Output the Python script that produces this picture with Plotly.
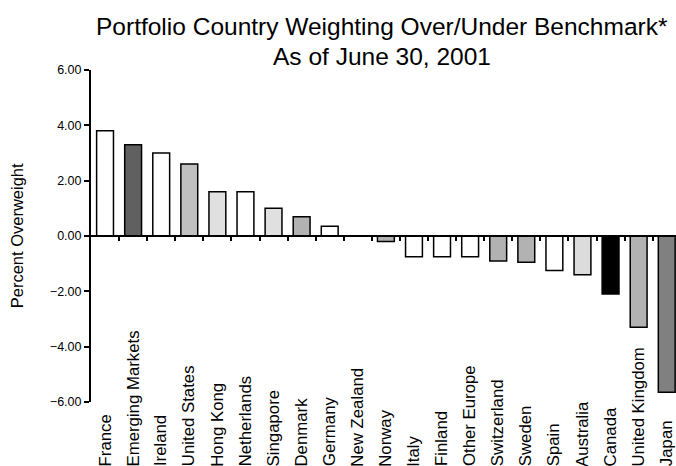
import plotly.graph_objects as go

# Country over/under weights (percentage points vs. benchmark)
countries = [
    "France", "Emerging Markets", "Ireland", "United States", "Hong Kong",
    "Netherlands", "Singapore", "Denmark", "Germany", "New Zealand", "Norway",
    "Italy", "Finland", "Other Europe", "Switzerland", "Sweden", "Spain",
    "Australia", "Canada", "United Kingdom", "Japan",
]
weights = [
    3.8, 3.3, 3.0, 2.6, 1.6,
    1.6, 1.0, 0.7, 0.35, 0.0, -0.2,
    -0.75, -0.75, -0.75, -0.9, -0.95, -1.25,
    -1.4, -2.1, -3.3, -5.65,
]
bar_colors = [
    "#ffffff", "#606060", "#ffffff", "#c0c0c0", "#e0e0e0",
    "#ffffff", "#e0e0e0", "#b2b2b2", "#ffffff", "#ffffff", "#b2b2b2",
    "#ffffff", "#ffffff", "#ffffff", "#b2b2b2", "#b2b2b2", "#ffffff",
    "#dcdcdc", "#000000", "#b2b2b2", "#808080",
]
y_ticks = [-6, -4, -2, 0, 2, 4, 6]
title_lines = ["Portfolio Country Weighting Over/Under Benchmark*", "As of June 30, 2001"]

FONT = "Liberation Sans, Arial, sans-serif"

fig = go.Figure(
    go.Bar(
        x=list(range(len(countries))),
        y=weights,
        marker=dict(color=bar_colors, line=dict(color="#000000", width=1.5)),
        width=0.6,
        hoverinfo="skip",
    )
)

# Category labels, rotated and aligned along the bottom edge
for i, name in enumerate(countries):
    fig.add_annotation(
        x=i, xref="x", y=-0.2, yref="paper",
        text=name, textangle=-90, showarrow=False,
        xanchor="center", yanchor="bottom",
        font=dict(family=FONT, size=16.8, color="#000000"),
    )

fig.add_annotation(
    x=-0.126, xref="paper", y=0.5, yref="paper",
    text="Percent Overweight", textangle=-90, showarrow=False,
    xanchor="center", yanchor="middle",
    font=dict(family=FONT, size=16.5, color="#000000"),
)

# Two-line heading centred over the plotting area
for line, ypos in zip(title_lines, [1.1304, 1.040]):
    fig.add_annotation(
        x=0.497, xref="paper", y=ypos, yref="paper",
        text=line, showarrow=False,
        xanchor="center", yanchor="middle",
        font=dict(family=FONT, size=24.5, color="#000000"),
    )

fig.update_layout(
    width=676, height=466,
    margin=dict(l=91, r=0, t=70, b=64),
    paper_bgcolor="#ffffff", plot_bgcolor="#ffffff",
    showlegend=False,
    xaxis=dict(
        range=[-0.5, 20.33],
        anchor="free", position=0.5,
        showline=True, linecolor="#000000", linewidth=2,
        ticks="outside", ticklen=4, tickwidth=1.5, tickcolor="#000000",
        tickmode="array", tickvals=[i + 0.5 for i in range(len(countries))],
        showticklabels=False, showgrid=False, zeroline=False,
    ),
    yaxis=dict(
        range=[-6, 6],
        tickmode="array", tickvals=y_ticks, tickformat=".2f",
        showline=True, linecolor="#000000", linewidth=2,
        ticks="outside", ticklen=5, tickwidth=2, tickcolor="#000000",
        showgrid=False, zeroline=False,
        tickfont=dict(family=FONT, size=12.5, color="#000000"),
    ),
)

fig.write_html("out.html")
